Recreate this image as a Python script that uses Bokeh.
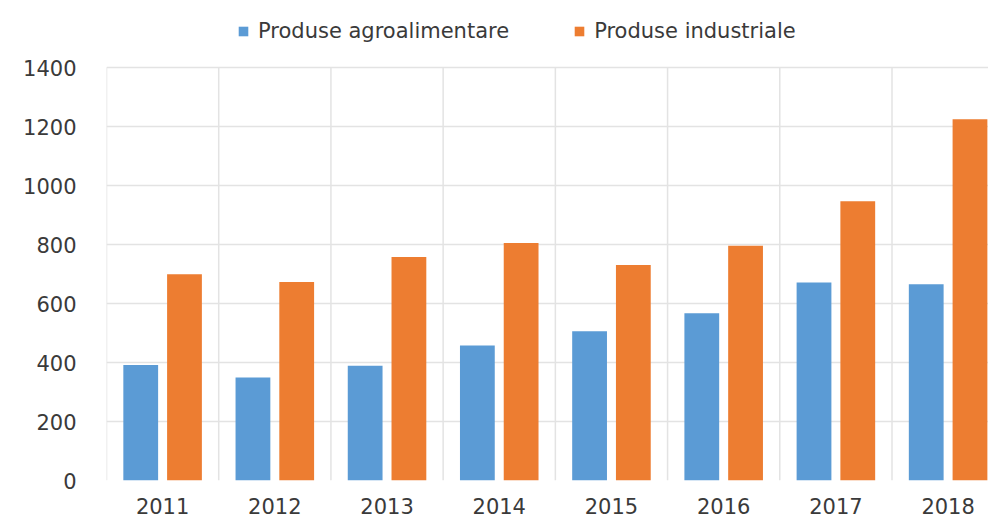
import numpy as np
from bokeh.plotting import figure
from bokeh.models import ColumnDataSource, FixedTicker, Legend, LegendItem, Range1d
from bokeh.embed import file_html
from bokeh.resources import INLINE

years = ["2011", "2012", "2013", "2014", "2015", "2016", "2017", "2018"]
agro = [392, 349, 389, 458, 506, 567, 671, 665]
industrial = [699, 673, 758, 805, 731, 796, 947, 1225]
series_names = ["Produse agroalimentare", "Produse industriale"]
y_ticks = [0, 200, 400, 600, 800, 1000, 1200, 1400]

BLUE = "#5B9BD5"
ORANGE = "#ED7D31"
GRID = "#e3e3e3"
TEXT = "#3a3a3a"
FONT = "DejaVu Sans"

idx = np.arange(len(years))
src = ColumnDataSource(dict(
    x_agro=idx - 0.195,
    x_ind=idx + 0.195,
    agro=agro,
    ind=industrial,
))
bounds = np.arange(-0.5, len(years), 1.0)
vsrc = ColumnDataSource(dict(x=bounds, y0=[y_ticks[0]] * len(bounds), y1=[y_ticks[-1]] * len(bounds)))

p = figure(
    output_backend="svg", toolbar_location=None,
    frame_width=882, frame_height=474,
    min_border_left=106, min_border_right=0, min_border_top=6, min_border_bottom=39,
    x_range=Range1d(-0.5, len(years) - 0.64), y_range=Range1d(0, 1607),
)
p.outline_line_color = None
p.background_fill_color = "white"

# vertical gridlines between categories (limited to the value axis extent)
p.segment(x0="x", x1="x", y0="y0", y1="y1", source=vsrc, line_color=GRID, line_width=1.5)

r1 = p.vbar(x="x_agro", top="agro", width=0.31, source=src, color=BLUE, line_color=None)
r2 = p.vbar(x="x_ind", top="ind", width=0.31, source=src, color=ORANGE, line_color=None)

# axes
p.xaxis.ticker = FixedTicker(ticks=list(idx))
p.xaxis.major_label_overrides = {int(i): y for i, y in zip(idx, years)}
p.yaxis.ticker = FixedTicker(ticks=y_ticks)
for ax in (p.xaxis[0], p.yaxis[0]):
    ax.axis_line_color = None
    ax.major_tick_line_color = None
    ax.minor_tick_line_color = None
    ax.major_label_text_font = FONT
    ax.major_label_text_font_size = "21px"
    ax.major_label_text_color = TEXT
p.xaxis.major_label_standoff = 11
p.yaxis.major_label_standoff = 24

# grids
p.xgrid.visible = False
p.ygrid.ticker = FixedTicker(ticks=y_ticks)
p.ygrid.grid_line_color = GRID
p.ygrid.grid_line_width = 1.5

legend = Legend(
    items=[LegendItem(label=series_names[0], renderers=[r1]),
           LegendItem(label=series_names[1], renderers=[r2])],
    orientation="horizontal", location=(131, 437),
    glyph_width=12, glyph_height=12, label_standoff=9, spacing=64,
    padding=0, margin=0, border_line_color=None, background_fill_alpha=0,
    label_text_font=FONT, label_text_font_size="21px", label_text_color=TEXT,
)
p.add_layout(legend, "center")

open("out.html", "w").write(file_html(p, INLINE))
